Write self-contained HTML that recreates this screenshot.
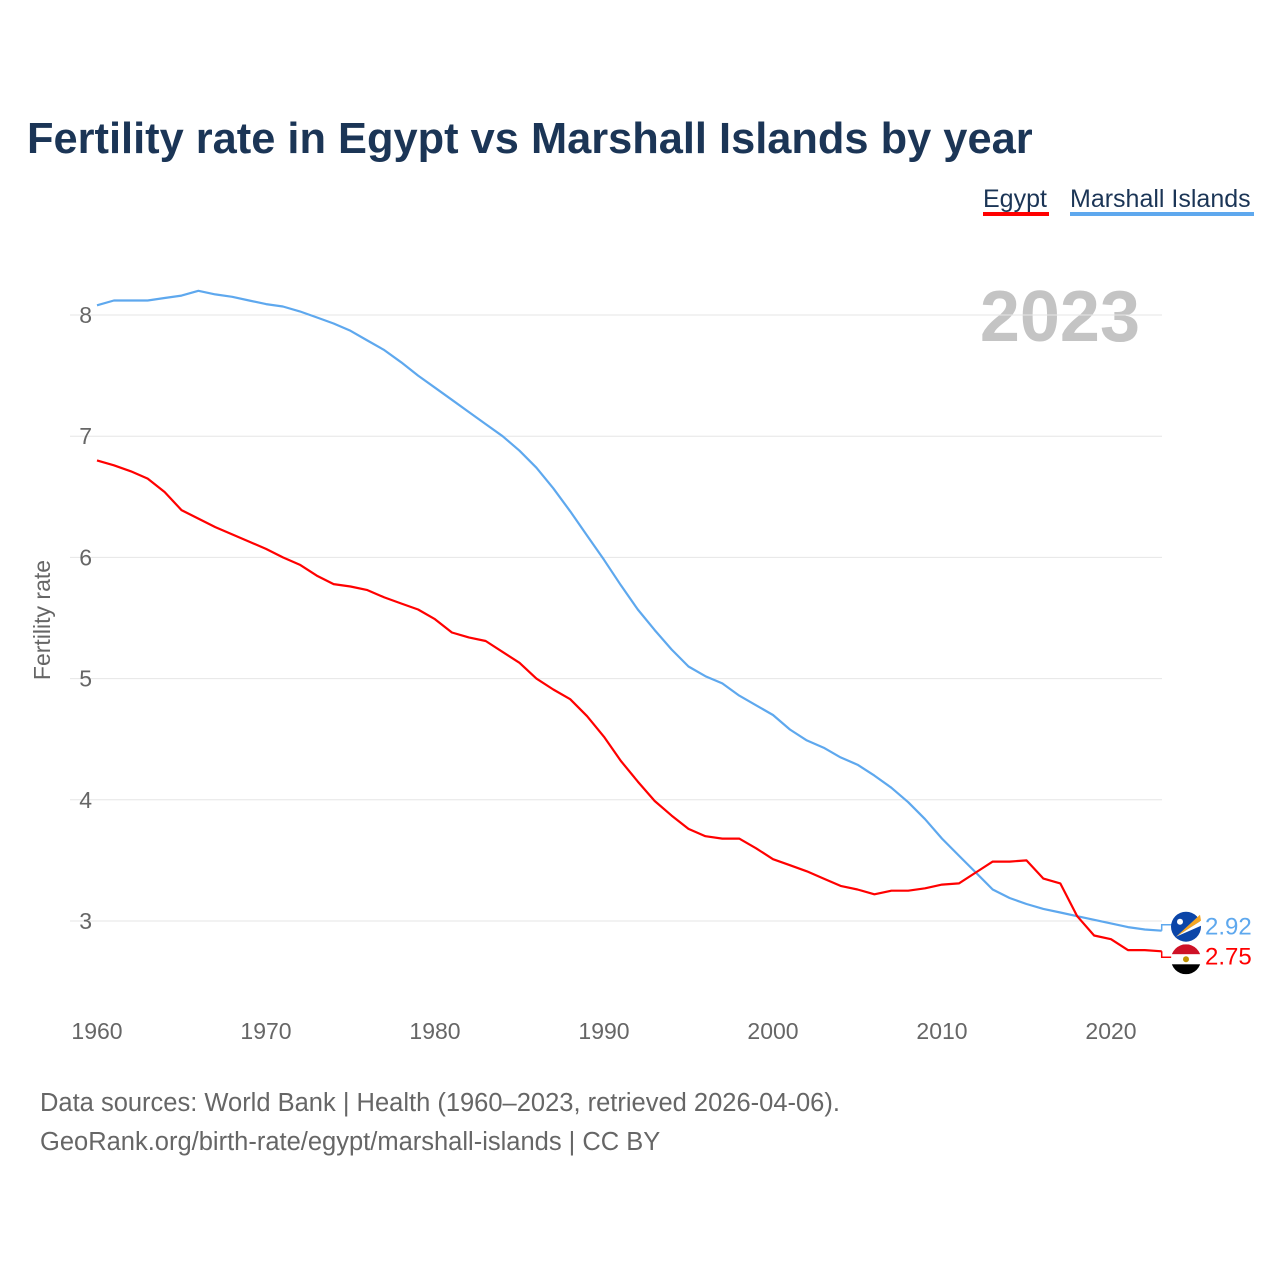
<!DOCTYPE html>
<html><head><meta charset="utf-8"><style>
body{margin:0;background:#fff;font-family:"Liberation Sans",sans-serif}
svg text{font-family:"Liberation Sans",sans-serif}
</style></head><body>
<svg id="chart" width="1280" height="1280" viewBox="0 0 1280 1280">
<text x="27" y="153" font-size="43.4" font-weight="bold" fill="#1b3556">Fertility rate in Egypt vs Marshall Islands by year</text>
<g>
<text x="983" y="207" font-size="25" fill="#1b3556">Egypt</text>
<rect x="983" y="212" width="66" height="4" fill="#ff0000"/>
<text x="1070" y="207" font-size="25" fill="#1b3556">Marshall Islands</text>
<rect x="1070" y="212" width="184" height="4" fill="#5ea8ee"/>
</g>
<text x="1140" y="341" font-size="72" font-weight="bold" fill="#c4c4c4" text-anchor="end">2023</text>
<g id="grid"></g><g id="xaxis"></g>
<text transform="translate(50,620) rotate(-90)" font-size="23" fill="#666" text-anchor="middle">Fertility rate</text>
<g id="series"></g>
<text x="40" y="1111" font-size="25.5" fill="#666">Data sources: World Bank | Health (1960–2023, retrieved 2026-04-06).</text>
<text x="40" y="1150" font-size="25.5" fill="#666">GeoRank.org/birth-rate/egypt/marshall-islands | CC BY</text>
</svg>
<script>
const years=[];for(let y=1960;y<=2023;y++)years.push(y);
const egypt=[6.80,6.76,6.71,6.65,6.54,6.39,6.32,6.25,6.19,6.13,6.07,6.00,5.94,5.85,5.78,5.76,5.73,5.67,5.62,5.57,5.49,5.38,5.34,5.31,5.22,5.13,5.00,4.91,4.83,4.69,4.52,4.32,4.15,3.99,3.87,3.76,3.70,3.68,3.68,3.60,3.51,3.46,3.41,3.35,3.29,3.26,3.22,3.25,3.25,3.27,3.30,3.31,3.40,3.49,3.49,3.50,3.35,3.31,3.04,2.88,2.85,2.76,2.76,2.75];
const marshall=[8.08,8.12,8.12,8.12,8.14,8.16,8.20,8.17,8.15,8.12,8.09,8.07,8.03,7.98,7.93,7.87,7.79,7.71,7.61,7.50,7.40,7.30,7.20,7.10,7.00,6.88,6.74,6.57,6.38,6.18,5.98,5.77,5.57,5.40,5.24,5.10,5.02,4.96,4.86,4.78,4.70,4.58,4.49,4.43,4.35,4.29,4.20,4.10,3.98,3.84,3.68,3.54,3.40,3.26,3.19,3.14,3.10,3.07,3.04,3.01,2.98,2.95,2.93,2.92];
const yTicks=[3,4,5,6,7,8];
const xTicks=[1960,1970,1980,1990,2000,2010,2020];
const NS="http://www.w3.org/2000/svg";
const X=y=>97+(y-1960)*(1111-97)/60;
const Y=v=>315+(8-v)*121.2;
function mk(t,a,p){const e=document.createElementNS(NS,t);for(const k in a)e.setAttribute(k,a[k]);p.appendChild(e);return e;}
const grid=document.getElementById('grid');
yTicks.forEach(v=>{
 const l=mk('line',{x1:70,x2:1162,y1:Y(v),y2:Y(v),stroke:'#e6e6e6','stroke-width':1},grid);
 
 
 const t=mk('text',{x:92,y:Y(v)+8,'font-size':23,fill:'#666','text-anchor':'end'},grid);t.textContent=v;
 
 
});
const xa=document.getElementById('xaxis');
xTicks.forEach(y=>{
 const t=mk('text',{x:X(y),y:1039,'font-size':23,fill:'#666','text-anchor':'middle'},xa);t.textContent=y;
 
 
});
const s=document.getElementById('series');
function line(data,color,name){
 const d=data.map((v,i)=>(i?'L':'M')+X(years[i]).toFixed(1)+','+Y(v).toFixed(1)).join('');
 const p=mk('path',{d:d,fill:'none',stroke:color,'stroke-width':2.2,'stroke-linejoin':'round'},s);
 
 
}
line(marshall,'#5ea8ee','marshall-islands');
line(egypt,'#ff0000','egypt');
const lm=marshall[marshall.length-1], le=egypt[egypt.length-1];
const xe=X(2023);
const my=Y(lm)-6;
const mp=mk('path',{d:`M${xe},${Y(lm)}L${xe},${my}L${xe+10},${my}`,fill:'none',stroke:'#5ea8ee','stroke-width':1.5},s);


const mcy=my+2;
const mc=mk('circle',{cx:1186,cy:mcy,r:15,fill:'#0b45a8'},s);


mk('path',{d:`M1176,${mcy+10}L1200,${mcy-12}L1201,${mcy-6}Z`,fill:'#f5a623'},s);
mk('path',{d:`M1176,${mcy+10}L1201,${mcy-6}L1201,${mcy-1}Z`,fill:'#fff'},s);
mk('circle',{cx:1180,cy:mcy-5,r:3,fill:'#fff'},s);
const mt=mk('text',{x:1205,y:my+10,'font-size':24,fill:'#5ea8ee'},s);mt.textContent=lm.toFixed(2);


const ey=Y(le)+6;
const ep=mk('path',{d:`M${xe},${Y(le)}L${xe},${ey}L${xe+10},${ey}`,fill:'none',stroke:'#ff0000','stroke-width':1.5},s);


const cy=ey+2;
const cp=mk('clipPath',{id:'ec'},s);mk('circle',{cx:1186,cy:cy,r:15},cp);
const eg=mk('g',{'clip-path':'url(#ec)'},s);


mk('rect',{x:1170,y:cy-15,width:32,height:10,fill:'#ce1126'},eg);
mk('rect',{x:1170,y:cy-5,width:32,height:10,fill:'#fff'},eg);
mk('rect',{x:1170,y:cy+5,width:32,height:10,fill:'#000'},eg);
mk('circle',{cx:1186,cy:cy,r:3,fill:'#c09300'},eg);
const et=mk('text',{x:1205,y:ey+7,'font-size':24,fill:'#ff0000'},s);et.textContent=le.toFixed(2);


</script>
</body></html>
